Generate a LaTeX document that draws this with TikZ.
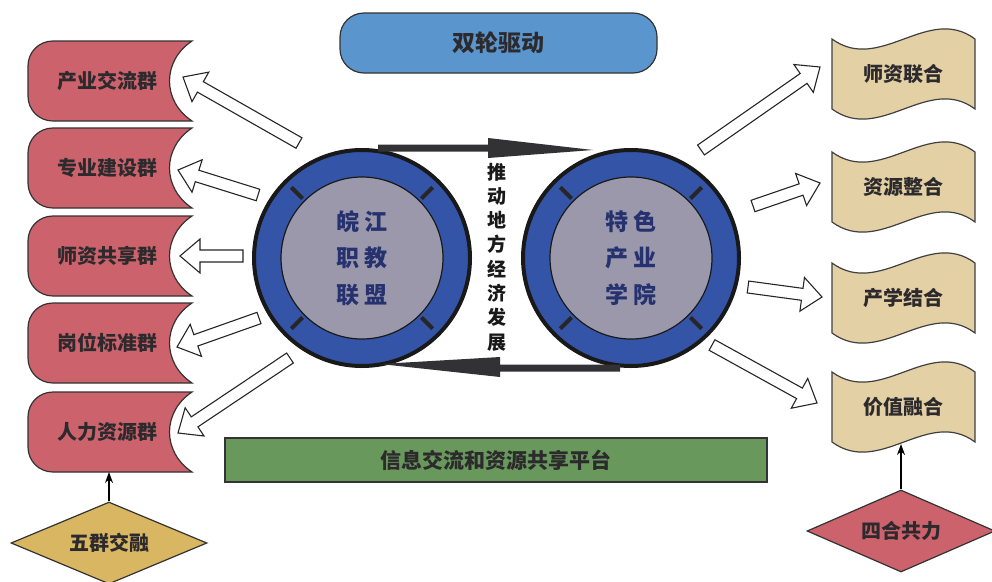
\documentclass[tikz,border=0pt]{standalone}
\usepackage{fontspec}
\setmainfont{Noto Sans CJK SC}
\usetikzlibrary{calc,arrows.meta,shapes.geometric}
\definecolor{redbox}{RGB}{204,98,108}
\definecolor{tanbox}{RGB}{228,208,165}
\definecolor{goldbox}{RGB}{216,182,98}
\definecolor{pillblue}{RGB}{90,150,205}
\definecolor{platgreen}{RGB}{104,152,92}
\definecolor{wheelblue}{RGB}{52,84,168}
\definecolor{wheelgray}{RGB}{154,152,170}
\definecolor{txtdark}{RGB}{45,42,45}
\definecolor{wheeltxt}{RGB}{38,50,112}
\definecolor{beltc}{RGB}{50,50,52}
\tikzset{
  lbl/.style={font=\fontsize{20}{24}\selectfont\bfseries, text=txtdark, inner sep=0pt},
  redshape/.style={draw=black!80, line width=1.2pt, fill=redbox},
  tanshape/.style={draw=black!75, line width=1.2pt, fill=tanbox},
  barrowst/.style={draw=black!85, line width=1.1pt, fill=white, line join=miter},
  wtext/.style={font=\fontsize{23}{36.5}\selectfont\bfseries, text=wheeltxt, align=center, inner sep=0pt},
  vstick/.style={line width=1.3pt, -{Stealth[length=11pt,width=8pt]}}
}
\newcommand\leftgroup[3]{% name, cy, text
  \begin{scope}[shift={(110,#2)}]
    \draw[redshape] (82,-40) -- (-57,-40) .. controls (-71,-40) and (-82,-29) .. (-82,-15) -- (-82,15) .. controls (-82,29) and (-71,40) .. (-57,40) -- (82,40) .. controls (52,20) and (52,-20) .. (82,-40) -- cycle;
    \node[lbl] (#1) at (-3,0) {#3};
    \coordinate (#1b) at (0,40);
  \end{scope}}
\newcommand\rightflag[3]{% name, cy, text
  \begin{scope}[shift={(903,#2)}]
    \draw[tanshape] (-71,-35) .. controls (-23,0) and (25,-70) .. (72,-35) -- (72,35) .. controls (25,0) and (-23,70) .. (-71,35) -- cycle;
    \node[lbl] (#1) at (0,0) {#3};
    \coordinate (#1b) at (0,37);
  \end{scope}}
\newcommand\blockarrow[2]{% tail, tip
  \coordinate (hb) at ($(#2)!20pt!(#1)$);
  \draw[barrowst] ($(#1)!6pt!90:(#2)$) -- ($(hb)!6pt!90:(#2)$) -- ($(hb)!17pt!90:(#2)$) -- (#2) -- ($(hb)!17pt!-90:(#2)$) -- ($(hb)!6pt!-90:(#2)$) -- ($(#1)!6pt!-90:(#2)$) -- cycle;}
\begin{document}
\begin{tikzpicture}[x=1pt,y=-1pt]
\useasboundingbox (0,0) rectangle (992,581);
\fill[white] (0,0) rectangle (992,581);

% left groups
\leftgroup{g1}{81}{产业交流群}
\leftgroup{g2}{168}{专业建设群}
\leftgroup{g3}{256}{师资共享群}
\leftgroup{g4}{343}{岗位标准群}
\leftgroup{g5}{432}{人力资源群}

% right flags
\rightflag{f1}{74}{师资联合}
\rightflag{f2}{187}{资源整合}
\rightflag{f3}{298}{产学结合}
\rightflag{f4}{407}{价值融合}

% diamonds
\node[diamond, aspect=2.39, draw=black!80, line width=1.2pt, fill=goldbox, minimum width=196pt, minimum height=82pt, inner sep=0pt, lbl] (d1) at (109,543) {五群交融};
\node[diamond, aspect=2.3, draw=black!80, line width=1.2pt, fill=redbox, minimum width=188pt, minimum height=82pt, inner sep=0pt, lbl] (d2) at (901,531) {四合共力};
\draw[vstick] (d1.north) -- (d1.north |- g5b);
\draw[vstick] (d2.north) -- (d2.north |- f4b);

% top pill and platform
\node[draw=black!80, line width=1.2pt, fill=pillblue, rounded corners=24pt, minimum width=317pt, minimum height=60pt, inner sep=0pt, font=\fontsize{23}{26}\selectfont\bfseries, text=txtdark] (pill) at (498.5,43) {双轮驱动};
\node[draw=black!80, line width=1.2pt, fill=platgreen, minimum width=542pt, minimum height=44pt, inner sep=0pt, font=\fontsize{21}{24}\selectfont\bfseries, text=txtdark] (plat) at (496,460) {信息交流和资源共享平台};

% wheels
\foreach \n/\cx in {L/362, R/631}{
  \node[circle, draw=black!90, line width=4pt, fill=wheelblue, minimum size=216pt, inner sep=0pt] (w\n) at (\cx,258) {};
  \node[circle, draw=black!90, line width=1.2pt, fill=wheelgray, minimum size=162pt, inner sep=0pt] (c\n) at (\cx,258) {};
  \foreach \a in {45,135,225,315}
    \draw[line width=4pt, black!85] ($(w\n.center)+(\a:84)$) -- ($(w\n.center)+(\a:100)$);
}
\node[wtext] (tL) at (wL.center) {皖\hspace{6pt}江\\职\hspace{6pt}教\\联\hspace{6pt}盟};
\node[wtext] (tR) at (wR.center) {特\hspace{6pt}色\\产\hspace{6pt}业\\学\hspace{6pt}院};

% belts
\fill[beltc] ($(wL.north)+(16,-3.5)$) -- ($(wL.north)+(126,-3.5)$) -- ($(wL.north)+(126,-10)$) -- ($(wR.north)+(-38,2)$) -- ($(wL.north)+(126,10)$) -- ($(wL.north)+(126,3.5)$) -- ($(wL.north)+(16,3.5)$) -- cycle;
\fill[beltc] ($(wR.south)+(-11,-3.5)$) -- ($(wR.south)+(-131,-3.5)$) -- ($(wR.south)+(-131,-11)$) -- ($(wL.south)+(18,-4)$) -- ($(wR.south)+(-131,9)$) -- ($(wR.south)+(-131,3.5)$) -- ($(wR.south)+(-11,3.5)$) -- cycle;

% vertical text
\node[font=\fontsize{19}{24.3}\selectfont\bfseries, text=black!90, align=center, inner sep=0pt] (vt) at (497,257) {推\\动\\地\\方\\经\\济\\发\\展};

% block arrows
\coordinate (aL1t) at (299,143); \coordinate (aL1p) at (183,77);
\coordinate (aL2t) at (258,195); \coordinate (aL2p) at (178,170);
\coordinate (aL3t) at (243,256); \coordinate (aL3p) at (180,256);
\coordinate (aL4t) at (259,318); \coordinate (aL4p) at (177,347);
\coordinate (aL5t) at (290,358); \coordinate (aL5p) at (178,433);
\coordinate (aR1t) at (701,150); \coordinate (aR1p) at (820,67);
\coordinate (aR2t) at (753,206); \coordinate (aR2p) at (820,183);
\coordinate (aR3t) at (748,287); \coordinate (aR3p) at (822,297);
\coordinate (aR4t) at (712,345); \coordinate (aR4p) at (817,403);
\foreach \k in {L1,L2,L3,L4,L5,R1,R2,R3,R4}{\blockarrow{a\k t}{a\k p}}
\end{tikzpicture}
\end{document}
